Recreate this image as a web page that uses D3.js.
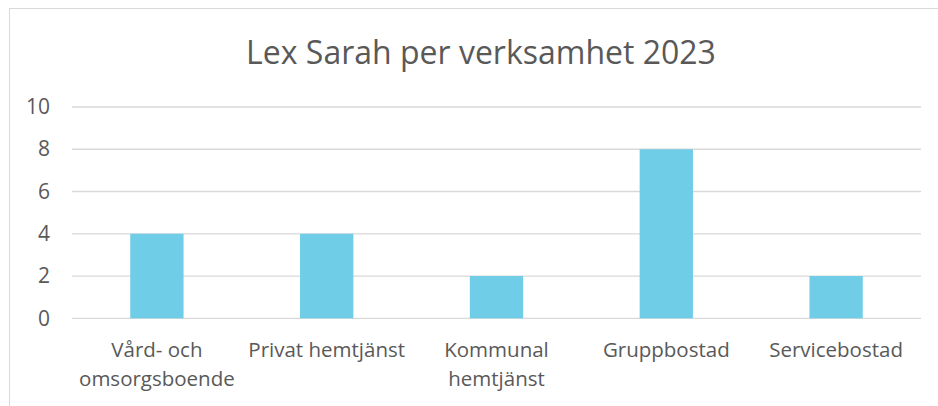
<!DOCTYPE html>
<html>
<head>
<meta charset="utf-8">
<script src="https://cdn.jsdelivr.net/npm/d3@7"></script>
<style>
  body { margin: 0; background: #fff; }
  text { font-family: "Open Sans", Lato, sans-serif; fill: #595959; }
</style>
</head>
<body>
<script>
// data
var categories = ["Vård- och omsorgsboende", "Privat hemtjänst", "Kommunal hemtjänst", "Gruppbostad", "Servicebostad"];
var labelLines = [["Vård- och", "omsorgsboende"], ["Privat hemtjänst"], ["Kommunal", "hemtjänst"], ["Gruppbostad"], ["Servicebostad"]];
var values = [4, 4, 2, 8, 2];
var yTicks = [0, 2, 4, 6, 8, 10];
var title = "Lex Sarah per verksamhet 2023";

var width = 938;
var height = 406;

var margin = { top: 107, bottom: 87, left: 72, right: 17 };

var svg = d3.select("body")
    .append("svg")
    .attr("width", width)
    .attr("height", height);

// chart area border (runs off the picture to the right and bottom)
svg.append("rect")
    .attr("x", 9.5)
    .attr("y", 8.5)
    .attr("width", 1000)
    .attr("height", 1000)
    .attr("fill", "none")
    .attr("stroke", "#d9d9d9")
    .attr("stroke-width", 1);

var x = d3.scaleBand()
    .domain(categories)
    .range([margin.left, width - margin.right])
    .padding(0);

var y = d3.scaleLinear()
    .domain([0, 10])
    .range([height - margin.bottom - 0.7, margin.top]);

// title
svg.append("text")
    .attr("x", 481)
    .attr("y", 64)
    .attr("text-anchor", "middle")
    .style("font-size", "32px")
    .text(title);

// gridlines
svg.append("g")
    .selectAll("line")
    .data(yTicks)
    .enter()
    .append("line")
    .attr("x1", margin.left)
    .attr("x2", width - margin.right)
    .attr("y1", function(d) { return y(d); })
    .attr("y2", function(d) { return y(d); })
    .attr("stroke", "#d9d9d9")
    .attr("stroke-width", 1.3);

// y axis labels
var yAxis = d3.axisLeft(y)
    .tickValues(yTicks)
    .tickSize(0)
    .tickPadding(0);

var yg = svg.append("g")
    .attr("transform", "translate(" + 50 + ",0)")
    .call(yAxis);
yg.select(".domain").remove();
yg.selectAll("text")
    .style("font-size", "21px")
    .attr("fill", "#595959")
    .style("font-family", "'Open Sans', Lato, sans-serif");

// bars
var barWidth = x.bandwidth() * 0.314;

svg.selectAll(".bar")
    .data(values)
    .enter()
    .append("rect")
    .attr("class", "bar")
    .attr("x", function(d, i) { return x(categories[i]) + (x.bandwidth() - barWidth) / 2; })
    .attr("y", function(d) { return y(d); })
    .attr("width", barWidth)
    .attr("height", function(d) { return y(0) - y(d); })
    .attr("fill", "#6fcde8");

// category labels
var cat = svg.selectAll(".cat")
    .data(labelLines)
    .enter()
    .append("text")
    .attr("class", "cat")
    .attr("text-anchor", "middle")
    .style("font-size", "20.5px");

cat.selectAll("tspan")
    .data(function(d, i) {
        return d.map(function(s) { return { s: s, i: i }; });
    })
    .enter()
    .append("tspan")
    .attr("x", function(d) { return x(categories[d.i]) + x.bandwidth() / 2; })
    .attr("y", function(d, j) { return 357 + j * 28.5; })
    .text(function(d) { return d.s; });
</script>
</body>
</html>
